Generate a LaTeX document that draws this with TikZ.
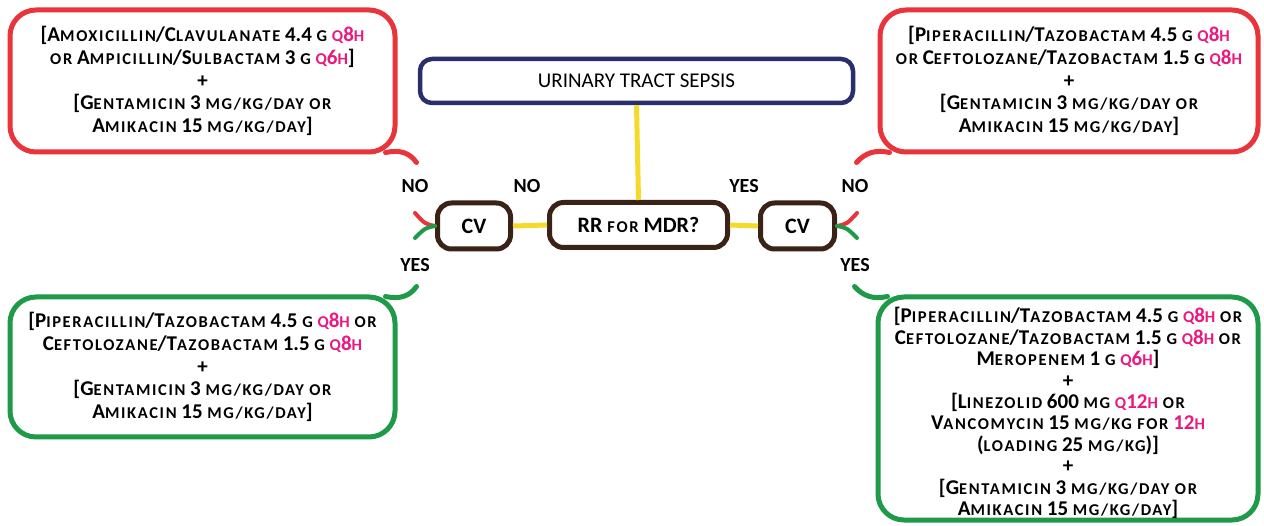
\documentclass[tikz,border=0pt]{standalone}
\usepackage{fontspec}
\setmainfont{Carlito}
\newfontfamily\scfam{Carlito}[LetterSpace=10]
\definecolor{cred}{HTML}{E8343A}
\definecolor{cgreen}{HTML}{1E9A48}
\definecolor{cnavy}{HTML}{2B2E6C}
\definecolor{cbrown}{HTML}{3A2216}
\definecolor{cyel}{HTML}{F5DA2C}
\definecolor{cpink}{HTML}{E8197F}
\newcommand\s[1]{{\scfam\fontsize{16.5}{20}\selectfont\MakeUppercase{#1}}}
\newcommand\qh[1]{\textcolor{cpink}{\s{q}#1\s{h}}}
\newcommand\lb{\relax[}
\begin{document}
\begin{tikzpicture}[x=1pt,y=-1pt,
  callout/.style={draw, line width=5pt, rounded corners=26pt, align=center,
    font=\fontsize{21}{22.8}\selectfont\bfseries, inner sep=0pt},
  nobox/.style={callout, draw=cred},
  yesbox/.style={callout, draw=cgreen},
  ctext/.style={align=center, font=\fontsize{21}{21.4}\selectfont\bfseries, inner sep=0pt},
  decbox/.style={draw=cbrown, line width=5pt, rounded corners=14pt, inner sep=0pt,
    font=\fontsize{22}{23}\selectfont\bfseries},
  lab/.style={font=\fontsize{20}{22}\selectfont\bfseries, inner sep=0pt},
  yel/.style={draw=cyel, line width=5pt},
  tail/.style={line width=5pt, line cap=round},
  tick/.style={line width=4pt, line cap=round}]
\useasboundingbox (0,0) rectangle (1264,526);

\node[draw=cnavy, line width=4.5pt, rounded corners=12pt, minimum width=433pt, minimum height=44pt,
  font=\fontsize{21}{22}\selectfont] (uts) at (636.5,81) {URINARY TRACT SEPSIS};
\node[decbox, minimum width=178pt, minimum height=45pt] (rr) at (638.5,225) {RR \s{for} MDR?};
\node[decbox, minimum width=73pt, minimum height=46pt] (cvl) at (474,226) {CV};
\node[decbox, minimum width=74pt, minimum height=46pt] (cvr) at (797.5,226) {CV};

\draw[yel] (uts.south) -- (rr.north);
\draw[yel] (cvl.east) -- (rr.west);
\draw[yel] (rr.east) -- (cvr.west);

\node[nobox, minimum width=385pt, minimum height=142pt] (tl) at (202.5,81)
 {\lb A\s{moxicillin}/C\s{lavulanate} 4.4 \s{g} \qh{8}\\
  \s{or} A\s{mpicillin}/S\s{ulbactam} 3 \s{g} \qh{6}]\\
  +\\
  \lb G\s{entamicin} 3 \s{mg/kg/day or}\\
  A\s{mikacin} 15 \s{mg/kg/day}]};
\node[nobox, minimum width=378pt, minimum height=142pt] (tr) at (1069,81)
 {\lb P\s{iperacillin}/T\s{azobactam} 4.5 \s{g} \qh{8}\\
  \s{or} C\s{eftolozane}/T\s{azobactam} 1.5 \s{g} \qh{8}\\
  +\\
  \lb G\s{entamicin} 3 \s{mg/kg/day or}\\
  A\s{mikacin} 15 \s{mg/kg/day}]};
\node[yesbox, minimum width=385pt, minimum height=140pt] (bl) at (202.5,367)
 {\lb P\s{iperacillin}/T\s{azobactam} 4.5 \s{g} \qh{8} \s{or}\\
  C\s{eftolozane}/T\s{azobactam} 1.5 \s{g} \qh{8}\\
  +\\
  \lb G\s{entamicin} 3 \s{mg/kg/day or}\\
  A\s{mikacin} 15 \s{mg/kg/day}]};
\node[yesbox, minimum width=380pt, minimum height=223pt] (br) at (1068,408.5) {};
\node[ctext] (brt) at (1068,413)
 {\lb P\s{iperacillin}/T\s{azobactam} 4.5 \s{g} \qh{8} \s{or}\\
  C\s{eftolozane}/T\s{azobactam} 1.5 \s{g} \qh{8} \s{or}\\
  M\s{eropenem} 1 \s{g} \qh{6}]\\
  +\\
  \lb L\s{inezolid} 600 \s{mg} \qh{12} \s{or}\\
  V\s{ancomycin} 15 \s{mg/kg for} \textcolor{cpink}{12\s{h}}\\
  (\s{loading} 25 \s{mg/kg})]\\
  +\\
  \lb G\s{entamicin} 3 \s{mg/kg/day or}\\
  A\s{mikacin} 15 \s{mg/kg/day}]};

% callout tails
\draw[tail, cred] ([shift={(-12,-2)}]tl.south east) .. controls ([shift={(2,-5)}]tl.south east) and ([shift={(12,-2)}]tl.south east) .. ([shift={(19,8)}]tl.south east);
\draw[tail, cred] ([shift={(12,-2)}]tr.south west) .. controls ([shift={(-2,-5)}]tr.south west) and ([shift={(-12,-2)}]tr.south west) .. ([shift={(-21,8)}]tr.south west);
\draw[tail, cgreen] ([shift={(-12,2)}]bl.north east) .. controls ([shift={(2,5)}]bl.north east) and ([shift={(12,2)}]bl.north east) .. ([shift={(19,-8)}]bl.north east);
\draw[tail, cgreen] ([shift={(12,2)}]br.north west) .. controls ([shift={(-2,5)}]br.north west) and ([shift={(-12,2)}]br.north west) .. ([shift={(-21,-8)}]br.north west);

% split ticks at CV boxes
\draw[tick, cred] (cvl.west) .. controls ([shift={(-10,-2)}]cvl.west) .. ([shift={(-20,-13)}]cvl.west);
\draw[tick, cgreen] (cvl.west) .. controls ([shift={(-10,2)}]cvl.west) .. ([shift={(-20,12)}]cvl.west);
\draw[tick, cred] (cvr.east) .. controls ([shift={(10,-2)}]cvr.east) .. ([shift={(20,-13)}]cvr.east);
\draw[tick, cgreen] (cvr.east) .. controls ([shift={(10,2)}]cvr.east) .. ([shift={(20,12)}]cvr.east);

\node[lab] (nol) at (415,186) {NO};
\node[lab] (noi) at (527,186) {NO};
\node[lab] (yesi) at (744,186) {YES};
\node[lab] (nor) at (855,186) {NO};
\node[lab] (yesl) at (415,265) {YES};
\node[lab] (yesr) at (855,265) {YES};
\end{tikzpicture}
\end{document}
